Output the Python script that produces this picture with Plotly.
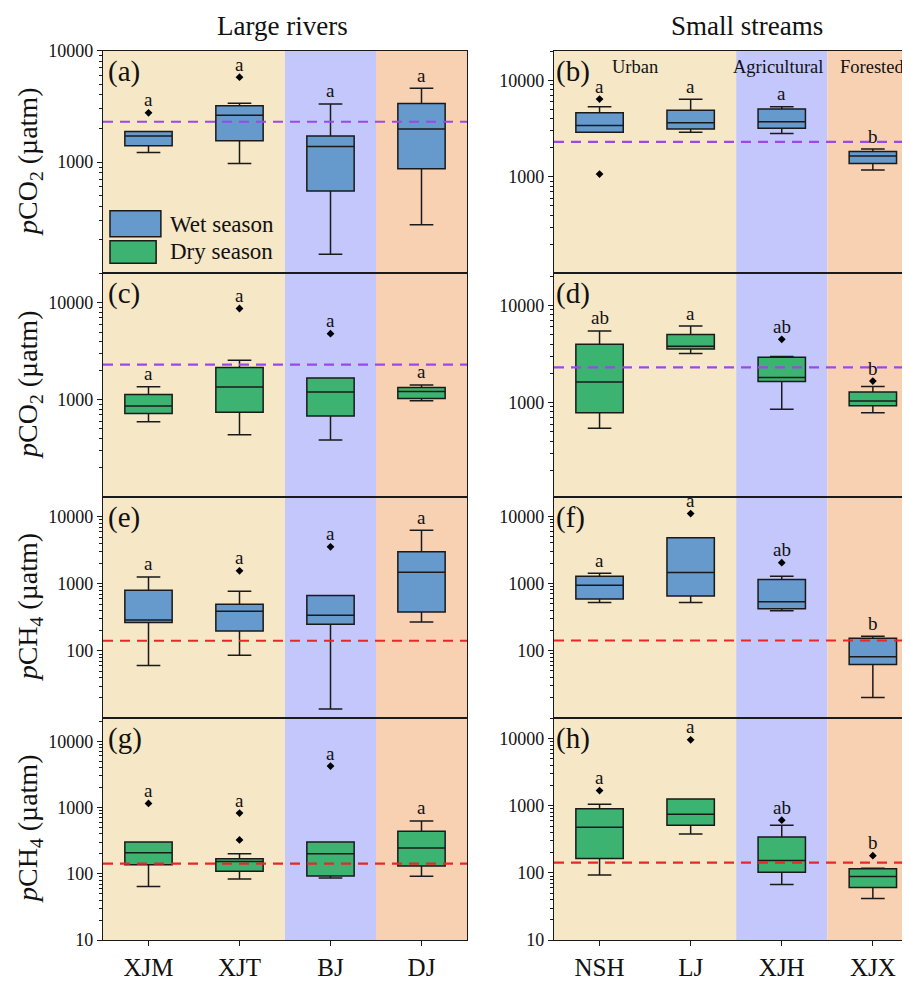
import numpy as np
import plotly.graph_objects as go

# ---------------- data ----------------
RIVERS = ["XJM", "XJT", "BJ", "DJ"]
STREAMS = ["NSH", "LJ", "XJH", "XJX"]

# (a) pCO2 wet season, large rivers
A_LOW = [1220, 971, 148, 273]
A_Q1 = [1400, 1552, 550, 871]
A_MED = [1710, 2637, 1380, 1976]
A_Q3 = [1880, 3194, 1710, 3350]
A_UP = [1880, 3380, 3326, 4605]
A_OUT_X = [0, 1]
A_OUT_Y = [2767, 5780]
A_LET = ["a", "a", "a", "a"]

# (b) pCO2 wet season, small streams
B_LOW = [2890, 2890, 2818, 1175]
B_Q1 = [2890, 3126, 3177, 1377]
B_MED = [3412, 3631, 3722, 1640]
B_Q3 = [4613, 4886, 5036, 1833]
B_UP = [5320, 6350, 5320, 1937]
B_OUT_X = [0, 0]
B_OUT_Y = [6397, 1067]
B_LET = ["a", "a", "a", "b"]

# (c) pCO2 dry season, large rivers
C_LOW = [595, 436, 384, 977]
C_Q1 = [721, 745, 682, 1032]
C_MED = [861, 1355, 1202, 1219]
C_Q3 = [1135, 2148, 1680, 1342]
C_UP = [1365, 2559, 1680, 1422]
C_OUT_X = [1, 2]
C_OUT_Y = [8750, 4810]
C_LET = ["a", "a", "a", "a"]

# (d) pCO2 dry season, small streams
D_LOW = [544, 3187, 853, 782]
D_Q1 = [782, 3556, 1643, 923]
D_MED = [1629, 3791, 1806, 1038]
D_Q3 = [3972, 5000, 2925, 1284]
D_UP = [5445, 6124, 2970, 1459]
D_OUT_X = [2, 3]
D_OUT_Y = [4474, 1663]
D_LET = ["ab", "a", "ab", "b"]

# (e) pCH4 wet season, large rivers
E_LOW = [60.5, 86.3, 13.6, 271]
E_Q1 = [265, 199, 250, 382]
E_MED = [290, 391, 341, 1496]
E_Q3 = [805, 498, 671, 3004]
E_UP = [1271, 778, 671, 6325]
E_OUT_X = [1, 2]
E_OUT_Y = [1563, 3566]
E_LET = ["a", "a", "a", "a"]

# (f) pCH4 wet season, small streams
F_LOW = [522, 522, 393, 20.1]
F_Q1 = [586, 649, 421, 62.5]
F_MED = [944, 1452, 534, 81.3]
F_Q3 = [1282, 4773, 1143, 153]
F_UP = [1420, 4773, 1282, 164]
F_OUT_X = [1, 2]
F_OUT_Y = [10960, 2037]
F_LET = ["a", "a", "ab", "b"]

# (g) pCH4 dry season, large rivers
G_LOW = [64.1, 83.5, 86.5, 91.4]
G_Q1 = [137, 109, 92.7, 131]
G_MED = [207, 153, 200, 244]
G_Q3 = [300, 168, 300, 438]
G_UP = [300, 200, 300, 625]
G_OUT_X = [0, 1, 1, 2]
G_OUT_Y = [1151, 324, 824, 4217]
G_LET = ["a", "a", "a", "a"]

# (h) pCH4 dry season, small streams
H_LOW = [93.3, 382, 67, 41.4]
H_Q1 = [164, 514, 102, 60.4]
H_MED = [481, 751, 153, 88.1]
H_Q3 = [902, 1271, 344, 115]
H_UP = [1059, 1271, 514, 117.5]
H_OUT_X = [0, 1, 2, 3]
H_OUT_Y = [1693, 9660, 611, 181]
H_LET = ["a", "a", "ab", "b"]

CO2_REF = 2300
CH4_REF = 142

# ---------------- styling ----------------
FONT = "Liberation Serif"
WET = "#6699CC"
DRY = "#3CB371"
BAND_Y = "#F6E7C6"
BAND_B = "#C3C7FB"
BAND_O = "#F8D0B2"
LINEC = "#1a1a1a"
PURPLE = "#9A48EA"
RED = "#E82828"
TXT = "#111"

OFF = 8            # page body margin
W, H = 910 - OFF, 983 - OFF


def fx(px):
    return (px - OFF) / W


def fy(py):
    return 1 - (py - OFF) / H


XL = (103, 467)
XR = (554, 910)
ROWS = [(50.7, 273.3), (273.3, 496.7), (496.7, 718), (718, 940)]

panels = [
    ("a", A_LOW, A_Q1, A_MED, A_Q3, A_UP, A_OUT_X, A_OUT_Y, A_LET, WET, CO2_REF, PURPLE, [2, 4], [1000, 10000]),
    ("b", B_LOW, B_Q1, B_MED, B_Q3, B_UP, B_OUT_X, B_OUT_Y, B_LET, WET, CO2_REF, PURPLE, [2, 4.307], [1000, 10000]),
    ("c", C_LOW, C_Q1, C_MED, C_Q3, C_UP, C_OUT_X, C_OUT_Y, C_LET, DRY, CO2_REF, PURPLE, [2, 4.305], [1000, 10000]),
    ("d", D_LOW, D_Q1, D_MED, D_Q3, D_UP, D_OUT_X, D_OUT_Y, D_LET, DRY, CO2_REF, PURPLE, [2.03, 4.33], [1000, 10000]),
    ("e", E_LOW, E_Q1, E_MED, E_Q3, E_UP, E_OUT_X, E_OUT_Y, E_LET, WET, CH4_REF, RED, [1, 4.3], [100, 1000, 10000]),
    ("f", F_LOW, F_Q1, F_MED, F_Q3, F_UP, F_OUT_X, F_OUT_Y, F_LET, WET, CH4_REF, RED, [1, 4.29], [100, 1000, 10000]),
    ("g", G_LOW, G_Q1, G_MED, G_Q3, G_UP, G_OUT_X, G_OUT_Y, G_LET, DRY, CH4_REF, RED, [1, 4.35], [10, 100, 1000, 10000]),
    ("h", H_LOW, H_Q1, H_MED, H_Q3, H_UP, H_OUT_X, H_OUT_Y, H_LET, DRY, CH4_REF, RED, [1, 4.31], [10, 100, 1000, 10000]),
]

fig = go.Figure()
layout = dict(width=W, height=H, margin=dict(l=0, r=0, t=0, b=0, pad=0, autoexpand=False),
              paper_bgcolor="white", plot_bgcolor="white", showlegend=False,
              font=dict(family=FONT, color=TXT))
shapes = []
annotations = []

minor_vals = [m * 10 ** e for e in range(0, 5) for m in range(2, 10)]

for i, (lab, low, q1, med, q3, up, ox, oy, lets, col, ref, refcol, yr, tv) in enumerate(panels):
    n = i + 1
    row, colidx = i // 2, i % 2
    xs = "x" if n == 1 else f"x{n}"
    ys = "y" if n == 1 else f"y{n}"
    xa = "xaxis" if n == 1 else f"xaxis{n}"
    ya = "yaxis" if n == 1 else f"yaxis{n}"
    px0, px1 = XL if colidx == 0 else XR
    top, bot = ROWS[row]
    xrange_ = [-0.5, 3.5] if colidx == 0 else [-0.5, -0.5 + (px1 - px0) / 91.1]
    cats = RIVERS if colidx == 0 else STREAMS
    bottom = row == 3

    layout[xa] = dict(domain=[fx(px0), min(1.0, fx(px1))], range=xrange_, anchor=ys,
                      automargin=False,
                      showline=True, mirror=True, linecolor=LINEC, linewidth=1.3,
                      showgrid=False, zeroline=False,
                      tickvals=[0, 1, 2, 3] if bottom else [],
                      ticktext=cats if bottom else [],
                      ticks="outside" if bottom else "", ticklen=5, tickwidth=1.3,
                      tickcolor=LINEC, showticklabels=bottom,
                      tickfont=dict(family=FONT, size=25, color=TXT))
    layout[ya] = dict(domain=[fy(bot), fy(top)], type="log", range=yr, anchor=xs,
                      automargin=False,
                      showline=True, mirror=(colidx == 0), linecolor=LINEC, linewidth=1.3,
                      showgrid=False, zeroline=False, tickvals=tv, ticktext=[str(v) for v in tv],
                      ticks="outside", ticklen=5, tickwidth=1.3, tickcolor=LINEC,
                      tickfont=dict(family=FONT, size=18, color=TXT),
                      minor=dict(tickvals=minor_vals, ticks="outside", ticklen=3,
                                 tickwidth=1, tickcolor=LINEC, showgrid=False))

    # background bands
    for (b0, b1, bc) in [(-0.5, 1.5, BAND_Y), (1.5, 2.5, BAND_B), (2.5, xrange_[1], BAND_O)]:
        shapes.append(dict(type="rect", xref=xs, yref=f"{ys} domain", x0=b0, x1=b1, y0=0, y1=1,
                           fillcolor=bc, line=dict(width=0), layer="below"))

    # reference line
    fig.add_trace(go.Scatter(x=[-0.5, 3.5], y=[ref, ref], mode="lines",
                             line=dict(color=refcol, width=2.2, dash="10px,7px"),
                             xaxis=xs, yaxis=ys, hoverinfo="skip"))
    # boxes
    fig.add_trace(go.Box(x=[0, 1, 2, 3], q1=q1, median=med, q3=q3, lowerfence=low, upperfence=up,
                         width=0.52, whiskerwidth=0.5, fillcolor=col,
                         line=dict(color=LINEC, width=1.5), boxpoints=False,
                         xaxis=xs, yaxis=ys))
    # outliers
    fig.add_trace(go.Scatter(x=ox, y=oy, mode="markers",
                             marker=dict(symbol="diamond", size=6, color="black"),
                             xaxis=xs, yaxis=ys))
    # significance letters
    for k in range(4):
        topv = max([up[k]] + [v for xx, v in zip(ox, oy) if xx == k])
        annotations.append(dict(x=k, y=np.log10(topv), xref=xs, yref=ys, text=lets[k],
                                showarrow=False, yanchor="middle", yshift=13,
                                font=dict(family=FONT, size=19, color=TXT)))
    # panel label
    annotations.append(dict(x=0, y=1, xref=f"{xs} domain", yref=f"{ys} domain", text=f"({lab})",
                            showarrow=False, xanchor="left", yanchor="top",
                            xshift=3 if colidx == 0 else 0, yshift=-2,
                            font=dict(family=FONT, size=29, color=TXT)))
    # y titles
    if colidx == 0:
        gas = "CO<sub>2</sub>" if row < 2 else "CH<sub>4</sub>"
        annotations.append(dict(x=fx(29), y=fy((top + bot) / 2), xref="paper", yref="paper",
                                text=f"<i>p</i>{gas} (µatm)", textangle=-90, showarrow=False,
                                xanchor="center", yanchor="middle",
                                font=dict(family=FONT, size=28, color=TXT)))

# column titles
annotations.append(dict(x=fx(282.5), y=fy(26), xref="paper", yref="paper", text="Large rivers",
                        showarrow=False, xanchor="center", yanchor="middle",
                        font=dict(family=FONT, size=27, color=TXT)))
annotations.append(dict(x=fx(747), y=fy(26), xref="paper", yref="paper", text="Small streams",
                        showarrow=False, xanchor="center", yanchor="middle",
                        font=dict(family=FONT, size=27, color=TXT)))

# land-use labels in (b)
for txt, xx in [("Urban", 0.39), ("Agricultural", 1.96), ("Forested", 2.995)]:
    annotations.append(dict(x=xx, y=0.928, xref="x2", yref="y2 domain", text=txt, showarrow=False,
                            yanchor="middle", font=dict(family=FONT, size=18.5, color=TXT)))

# legend in (a)
shapes.append(dict(type="rect", xref="x domain", yref="y domain", x0=0.0192, x1=0.159,
                   y0=0.164, y1=0.281, fillcolor=WET, line=dict(color=LINEC, width=1.5)))
shapes.append(dict(type="rect", xref="x domain", yref="y domain", x0=0.0192, x1=0.146,
                   y0=0.045, y1=0.146, fillcolor=DRY, line=dict(color=LINEC, width=1.5)))
annotations.append(dict(x=0.179, y=0.217, xref="x domain", yref="y domain", text="Wet season",
                        showarrow=False, xanchor="left", yanchor="middle",
                        font=dict(family=FONT, size=23, color=TXT)))
annotations.append(dict(x=0.179, y=0.0957, xref="x domain", yref="y domain", text="Dry season",
                        showarrow=False, xanchor="left", yanchor="middle",
                        font=dict(family=FONT, size=23, color=TXT)))

layout["shapes"] = shapes
layout["annotations"] = annotations
fig.update_layout(**layout)
fig.write_html("out.html")
